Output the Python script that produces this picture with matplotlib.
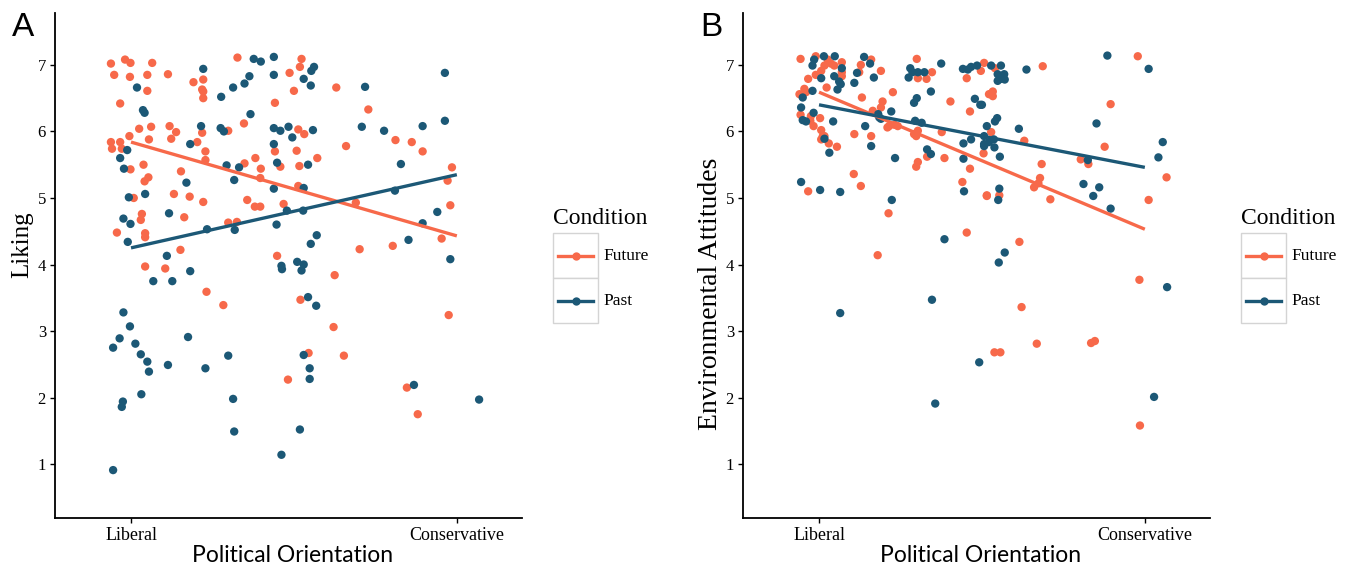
import numpy as np
import matplotlib.pyplot as plt
from matplotlib.lines import Line2D
from matplotlib.patches import Rectangle

W, H = 1347, 567

# ---- Panel A: Liking ----
fut_a_x = [0.63, 0.89, 0.99, 1.39, 0.69, 0.98, 1.30, 1.68, 2.96, 2.33, 2.15, 2.31, 2.33, 2.33, 1.30,
           0.80, 3.65, 3.08, 2.31, 2.79, 1.15, 1.37, 1.71, 1.83, 1.74, 0.97, 1.33, 0.63, 0.65, 0.80,
           0.83, 2.22, 2.37, 2.37, 3.65, 3.29, 3.75, 0.99, 1.23, 3.09, 3.39, 1.92, 1.32, 1.25, 3.38,
           1.05, 1.79, 2.08, 2.33, 3.14, 3.28, 3.38, 3.81, 1.20, 1.18, 1.98, 2.79, 2.95, 0.74, 1.26,
           1.26, 4.14, 4.11, 3.92, 4.00, 4.78, 5.37, 4.08, 4.19, 4.05, 4.96, 5.87, 6.17, 6.37, 4.10,
           4.43, 6.91, 6.83, 4.08, 5.14, 6.88, 6.72, 1.91, 1.26, 1.63, 3.69, 2.39, 2.70, 3.89, 5.21,
           5.82, 4.75, 4.12, 4.73, 6.85, 4.27, 4.92, 6.08, 6.28]
fut_a_y = [7.02, 7.08, 7.03, 7.03, 6.85, 6.82, 6.85, 6.86, 7.11, 6.78, 6.74, 6.63, 6.60, 6.50, 6.61,
           6.42, 6.43, 6.12, 5.98, 6.01, 6.04, 6.07, 6.08, 5.99, 5.89, 5.93, 5.88, 5.84, 5.74, 5.84,
           5.74, 5.84, 5.70, 5.57, 5.70, 5.60, 5.47, 5.43, 5.50, 5.52, 5.44, 5.40, 5.31, 5.25, 5.30,
           5.00, 5.06, 5.02, 4.94, 4.97, 4.87, 4.87, 4.91, 4.76, 4.67, 4.71, 4.63, 4.64, 4.48, 4.47,
           4.41, 7.09, 6.97, 6.88, 6.61, 6.66, 6.33, 6.03, 5.96, 5.71, 5.78, 5.87, 5.84, 5.70, 5.48,
           5.60, 5.46, 5.26, 5.18, 4.93, 4.89, 4.39, 4.22, 3.97, 3.94, 4.13, 3.59, 3.39, 2.27, 4.23,
           4.28, 3.84, 3.47, 3.06, 3.24, 2.67, 2.63, 2.15, 1.75]
past_a_x = [3.26, 3.39, 3.63, 2.33, 3.18, 3.63, 3.09, 2.88, 2.66, 1.11, 1.22, 1.25, 3.20, 2.29, 2.65,
            2.71, 3.63, 3.75, 0.93, 0.80, 2.09, 3.63, 3.69, 0.87, 2.76, 2.99, 2.90, 3.63, 2.02, 0.96,
            1.26, 3.87, 0.86, 0.99, 1.70, 2.91, 2.40, 3.68, 4.37, 4.32, 4.18, 4.31, 5.31, 6.78, 6.78,
            3.90, 3.97, 4.35, 5.25, 5.66, 6.37, 4.26, 5.97, 4.18, 4.17, 5.86, 6.64, 6.37, 4.42, 6.11,
            0.94, 1.66, 2.09, 1.41, 1.76, 3.77, 3.78, 0.86, 0.98, 0.79, 0.67, 1.08, 1.18, 1.30, 1.33,
            2.05, 1.68, 2.37, 2.79, 1.19, 0.85, 0.83, 2.88, 2.90, 3.77, 0.67, 4.31, 6.88, 4.06, 4.18,
            4.14, 4.26, 4.41, 4.18, 4.29, 4.29, 6.21, 7.41, 4.11]
past_a_y = [7.09, 7.05, 7.12, 6.94, 6.83, 6.85, 6.72, 6.66, 6.52, 6.66, 6.32, 6.28, 6.26, 6.08, 6.05,
            6.00, 6.05, 6.01, 5.72, 5.60, 5.81, 5.81, 5.53, 5.44, 5.49, 5.46, 5.27, 5.14, 5.23, 5.01,
            5.06, 4.81, 4.69, 4.61, 4.77, 4.52, 4.53, 4.60, 6.97, 6.91, 6.79, 6.69, 6.67, 6.88, 6.16,
            6.07, 5.91, 6.02, 6.07, 6.01, 6.08, 5.50, 5.51, 5.15, 4.81, 5.11, 4.79, 4.62, 4.44, 4.37,
            4.34, 4.13, 3.90, 3.75, 3.75, 3.98, 3.93, 3.28, 3.07, 2.89, 2.75, 2.81, 2.65, 2.54, 2.39,
            2.91, 2.49, 2.44, 2.63, 2.05, 1.94, 1.86, 1.98, 1.49, 1.14, 0.91, 4.31, 4.08, 4.04, 4.00,
            3.91, 3.51, 3.38, 2.64, 2.44, 2.28, 2.19, 1.97, 1.52]
fit_a_fut = [5.84, 4.43]   # fitted values at Liberal / Conservative
fit_a_past = [4.25, 5.35]

# ---- Panel B: Environmental Attitudes ----
fut_b_x = [0.66, 0.94, 1.16, 1.22, 1.10, 1.28, 1.42, 0.80, 1.04, 0.94, 0.64, 0.73, 0.76, 1.14, 1.42,
           1.42, 1.77, 1.96, 2.14, 1.74, 2.80, 2.82, 2.98, 3.08, 3.72, 3.98, 4.04, 2.36, 1.79, 2.17,
           2.14, 3.42, 0.66, 0.84, 0.90, 1.02, 0.85, 1.04, 1.07, 1.04, 1.10, 1.18, 1.33, 1.99, 2.29,
           2.39, 2.26, 2.45, 1.96, 1.65, 2.75, 2.82, 2.79, 3.26, 3.78, 4.13, 4.03, 2.99, 3.31, 2.82,
           2.79, 3.78, 3.64, 1.64, 1.77, 0.80, 4.09, 2.28, 3.72, 2.08, 4.24, 5.12, 6.87, 4.20, 4.20,
           6.37, 4.17, 4.78, 6.26, 5.82, 5.96, 5.10, 5.07, 4.96, 5.04, 7.40, 4.09, 4.32, 5.26, 7.07,
           4.69, 6.90, 4.73, 5.01, 4.23, 4.34, 6.01, 6.08, 6.91]
fut_b_y = [7.09, 7.13, 7.08, 7.02, 6.99, 6.99, 7.04, 6.79, 6.91, 6.85, 6.56, 6.64, 6.59, 6.66, 6.89,
           6.83, 7.00, 7.08, 6.91, 6.89, 7.09, 6.80, 6.79, 6.89, 6.80, 6.91, 7.03, 6.59, 6.51, 6.45,
           6.36, 6.45, 6.25, 6.16, 6.08, 6.20, 6.23, 6.02, 5.93, 5.88, 5.93, 5.82, 5.77, 6.31, 6.08,
           6.10, 6.06, 6.08, 5.93, 5.96, 5.96, 6.01, 5.93, 5.99, 6.30, 6.56, 5.67, 5.62, 5.60, 5.54,
           5.47, 5.44, 5.24, 5.36, 5.18, 5.10, 5.04, 4.77, 4.48, 4.14, 6.95, 6.98, 7.13, 6.60, 6.53,
           6.41, 5.99, 5.86, 5.77, 5.58, 5.51, 5.51, 5.30, 5.16, 5.22, 5.31, 5.03, 5.04, 4.98, 4.97,
           4.34, 3.77, 3.36, 2.81, 2.68, 2.68, 2.82, 2.85, 1.58]
past_b_x = [0.91, 1.09, 1.29, 0.88, 1.42, 1.04, 1.28, 1.37, 1.40, 0.88, 1.34, 0.70, 0.67, 0.90, 0.70,
            0.76, 1.10, 1.19, 1.26, 1.65, 1.70, 2.01, 1.83, 1.94, 1.85, 1.96, 2.09, 2.11, 2.14, 2.33,
            2.40, 2.68, 2.72, 2.82, 2.94, 2.65, 3.25, 3.06, 2.80, 2.75, 2.77, 2.89, 2.99, 3.06, 3.65,
            3.74, 3.80, 3.91, 4.17, 3.87, 3.97, 4.04, 4.04, 3.80, 3.66, 3.66, 3.67, 0.67, 1.02, 1.39,
            2.34, 3.31, 4.35, 4.82, 6.31, 7.07, 4.29, 4.41, 4.35, 4.29, 4.42, 4.00, 4.28, 4.24, 4.09,
            4.68, 6.11, 4.04, 4.22, 4.23, 4.13, 4.33, 5.95, 7.33, 7.25, 5.87, 6.16, 6.05, 6.37, 4.32,
            4.30, 4.42, 4.31, 3.08, 1.39, 3.95, 3.14, 7.41, 7.17]
past_b_y = [7.08, 7.13, 7.13, 6.99, 6.95, 6.80, 6.83, 6.75, 6.71, 6.61, 6.63, 6.51, 6.36, 6.28, 6.17,
            6.15, 5.89, 5.68, 6.15, 6.73, 6.88, 6.81, 7.12, 7.02, 6.08, 5.78, 6.26, 6.21, 6.19, 6.30,
            5.60, 6.95, 6.89, 6.89, 6.89, 6.81, 7.02, 6.60, 6.50, 6.43, 6.16, 6.13, 5.73, 5.66, 6.94,
            6.93, 6.97, 6.99, 6.99, 6.49, 6.40, 5.93, 5.78, 5.88, 5.82, 5.59, 5.10, 5.24, 5.12, 5.09,
            4.97, 4.38, 6.99, 6.93, 7.14, 6.94, 6.86, 6.86, 6.79, 6.76, 6.78, 6.40, 6.20, 6.15, 6.08,
            6.04, 6.12, 5.81, 5.88, 5.76, 5.84, 5.62, 5.57, 5.84, 5.61, 5.21, 5.16, 5.03, 4.84, 5.14,
            4.97, 4.18, 4.03, 3.47, 3.27, 2.53, 1.91, 3.66, 2.01]
fit_b_fut = [6.59, 4.53]
fit_b_past = [6.40, 5.46]

fit_x = [1, 7]
tick_pos = [1, 7]
tick_lab = ['Liberal', 'Conservative']
cond_names = ['Future', 'Past']

ORANGE = '#F7694A'
BLUE = '#1C5876'
SERIF = ['Liberation Serif', 'DejaVu Serif']
SANS = ['Liberation Sans', 'DejaVu Sans']

fig = plt.figure(figsize=(W / 100, H / 100), dpi=100)


def fx(px):
    return px / W


def fy(py):
    return 1 - py / H


def panel(left_px, fx_, fy_, px_, py_, ffit, pfit, ylab, letter, ylab_x, ylab_y, ylab_size):
    ax = fig.add_axes([fx(left_px), fy(518), 467 / W, 505 / H])
    ax.scatter(fx_, fy_, s=36, color=ORANGE, edgecolors='none', zorder=2)
    ax.scatter(px_, py_, s=36, color=BLUE, edgecolors='none', zorder=2)
    ax.plot(fit_x, ffit, color=ORANGE, lw=2.4, zorder=3, solid_capstyle='butt')
    ax.plot(fit_x, pfit, color=BLUE, lw=2.4, zorder=3, solid_capstyle='butt')
    ax.set_xlim(-0.4, 8.2)
    ax.set_ylim(0.19, 7.78)
    for s in ['top', 'right']:
        ax.spines[s].set_visible(False)
    for s in ['left', 'bottom']:
        ax.spines[s].set_linewidth(1.3)
    ax.set_xticks(tick_pos)
    ax.set_xticklabels(tick_lab, fontsize=13, family=SERIF)
    ax.set_yticks(range(1, 8))
    ax.set_yticklabels([str(i) for i in range(1, 8)], fontsize=12, family=SERIF)
    ax.tick_params(length=3.5, width=1, pad=3)
    fig.text(fx(left_px + 238), fy(556), 'Political Orientation', ha='center', va='center',
             fontsize=16.5, family=['Lato', 'DejaVu Sans'])
    fig.text(fx(ylab_x), fy(ylab_y), ylab, ha='center', va='center', rotation=90,
             fontsize=ylab_size, family=SERIF)
    fig.text(fx(left_px - 43), fy(28), letter, ha='left', va='center', fontsize=24, family=SANS)

    # legend drawn in ggplot style
    lx = left_px + 498
    fig.text(fx(lx), fy(218), 'Condition', ha='left', va='center', fontsize=17, family=SERIF)
    for i, (name, col) in enumerate(zip(cond_names, [ORANGE, BLUE])):
        top = 233 + 45 * i
        fig.patches.append(Rectangle((fx(lx), fy(top + 45)), 45 / W, 45 / H,
                                     transform=fig.transFigure, facecolor='white',
                                     edgecolor='#D4D4D4', lw=1))
        cy = fy(top + 22.5)
        fig.lines.append(Line2D([fx(lx + 5), fx(lx + 40)], [cy, cy], color=col, lw=2.4,
                                transform=fig.transFigure))
        fig.lines.append(Line2D([fx(lx + 22.5)], [cy], color=col, marker='o', ms=6,
                                mec='none', transform=fig.transFigure))
        fig.text(fx(lx + 50), cy, name, ha='left', va='center', fontsize=12.5, family=SERIF)
    return ax


panel(55, fut_a_x, fut_a_y, past_a_x, past_a_y, fit_a_fut, fit_a_past, 'Liking', 'A', 22, 245, 18)
panel(743, fut_b_x, fut_b_y, past_b_x, past_b_y, fit_b_fut, fit_b_past, 'Environmental Attitudes',
      'B', 711, 294, 20)

fig.savefig('out.png', dpi=100, facecolor='white')
